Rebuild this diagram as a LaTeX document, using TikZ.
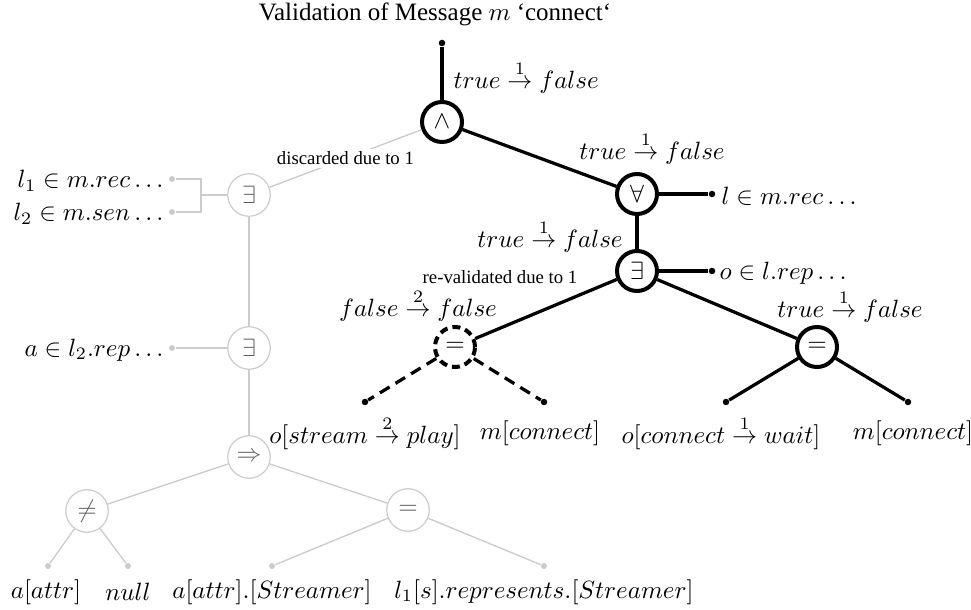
\documentclass[tikz,border=0pt]{standalone}
\usepackage{fontspec}
\setmainfont{Liberation Serif}
\usepackage{amsmath}
\definecolor{faint}{RGB}{204,204,204}
\definecolor{faintsym}{RGB}{95,95,95}
\begin{document}
\begin{tikzpicture}[x=0.4pt,y=-0.4pt,
  op/.style={circle,draw,line width=1.6pt,minimum size=16pt,inner sep=0pt},
  opdash/.style={op,dash pattern=on 3.2pt off 2pt},
  gop/.style={circle,draw=faint,line width=0.5pt,minimum size=17pt,inner sep=0pt,text=faintsym},
  edge/.style={line width=1.3pt},
  dashedge/.style={line width=1.3pt,dash pattern=on 4.5pt off 2.8pt},
  gedge/.style={draw=faint,line width=0.55pt},
  leaf/.style={circle,fill,inner sep=0pt,minimum size=2.6pt},
  gleaf/.style={circle,fill=faint,inner sep=0pt,minimum size=2.4pt},
  lbl/.style={inner sep=0pt},
  note/.style={font=\fontsize{7.5}{9}\selectfont,inner sep=1pt}]
\useasboundingbox (0,0) rectangle (971,610);

% title
\node[lbl] (title) at (435,14) {Validation of Message $m$ `connect`};

% evaluated part of the formula tree
\node[leaf] (root) at (442,43) {};
\node[op] (and) at (442,122) {$\wedge$};
\node[op] (all) at (637,194) {$\forall$};
\node[leaf] (lrec) at (712,194) {};
\node[op] (ex) at (637,271) {$\exists$};
\node[leaf] (orep) at (712,271) {};
\node[opdash] (eqd) at (455,347) {$=$};
\node[leaf] (d1) at (365,402) {};
\node[leaf] (d2) at (544,402) {};
\node[op] (eqr) at (817,347) {$=$};
\node[leaf] (r1) at (726,402) {};
\node[leaf] (r2) at (908,402) {};

% discarded subtree
\node[gop] (gex1) at (249,195) {$\exists$};
\node[gleaf] (g1) at (172,179) {};
\node[gleaf] (g2) at (172,212) {};
\coordinate (br) at (201,195);
\node[gop] (gex2) at (249,348) {$\exists$};
\node[gleaf] (g3) at (172,348) {};
\node[gop] (gimp) at (249,457) {$\Rightarrow$};
\node[gop] (gneq) at (87,511) {$\neq$};
\node[gop] (geq) at (408,510) {$=$};
\node[gleaf] (g4) at (48,566) {};
\node[gleaf] (g5) at (128,566) {};
\node[gleaf] (g6) at (272,566) {};
\node[gleaf] (g7) at (544,566) {};

% grey connectors
\draw[gedge] (g1) -| (br) |- (g2);
\draw[gedge] (br) -- (gex1);
\draw[gedge] (gex1) -- node[note,fill=white] (disc) {discarded due to 1} (and);
\draw[gedge] (gex1) -- (gex2);
\draw[gedge] (g3) -- (gex2);
\draw[gedge] (gex2) -- (gimp);
\draw[gedge] (gimp) -- (gneq);
\draw[gedge] (gimp) -- (geq);
\draw[gedge] (gneq) -- (g4);
\draw[gedge] (gneq) -- (g5);
\draw[gedge] (geq) -- (g6);
\draw[gedge] (geq) -- (g7);

% black connectors
\draw[edge] (root) -- (and);
\draw[edge] (and) -- (all);
\draw[edge] (all) -- (lrec);
\draw[edge] (all) -- (ex);
\draw[edge] (ex) -- (orep);
\draw[edge] (ex) -- (eqd);
\draw[edge] (ex) -- (eqr);
\draw[edge] (eqr) -- (r1);
\draw[edge] (eqr) -- (r2);
\draw[dashedge] (eqd) -- (d1);
\draw[dashedge] (eqd) -- (d2);

% truth value annotations
\node[lbl,anchor=west] (v1) at (453,77) {$true \stackrel{1}{\rightarrow} false$};
\node[lbl] (v2) at (652,148) {$true \stackrel{1}{\rightarrow} false$};
\node[lbl] (v3) at (550,236) {$true \stackrel{1}{\rightarrow} false$};
\node[lbl] (v4) at (418,305) {$false \stackrel{2}{\rightarrow} false$};
\node[lbl] (v5) at (850,306) {$true \stackrel{1}{\rightarrow} false$};
\node[note] (reval) at (500,277) {re-validated due to 1};

% leaf labels
\node[lbl,anchor=west] (tl) at (721,196) {$l \in m.rec\ldots$};
\node[lbl,anchor=west] (to) at (719,273) {$o \in l.rep\ldots$};
\node[lbl] (t1) at (365,433) {$o[stream \stackrel{2}{\rightarrow} play]$};
\node[lbl] (t2) at (540,433) {$m[connect]$};
\node[lbl] (t3) at (721,433) {$o[connect \stackrel{1}{\rightarrow} wait]$};
\node[lbl] (t4) at (913,433) {$m[connect]$};
\node[lbl,anchor=east] (tg1) at (164,181) {$l_1 \in m.rec\ldots$};
\node[lbl,anchor=east] (tg2) at (164,214) {$l_2 \in m.sen\ldots$};
\node[lbl,anchor=east] (tg3) at (164,350) {$a \in l_2.rep\ldots$};
\node[lbl] (tg4) at (46,592) {$a[attr]$};
\node[lbl] (tg5) at (128,592) {$null$};
\node[lbl] (tg6) at (272,592) {$a[attr].[Streamer]$};
\node[lbl] (tg7) at (544,592) {$l_1[s].represents.[Streamer]$};
\end{tikzpicture}
\end{document}
